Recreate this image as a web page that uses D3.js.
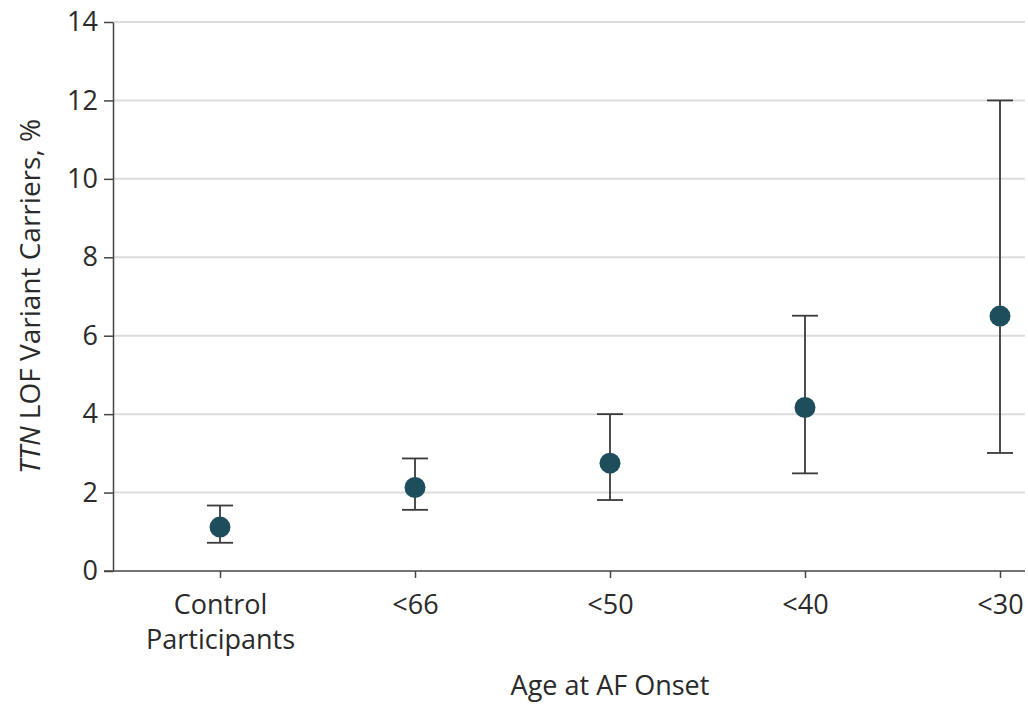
<!DOCTYPE html>
<html><head><meta charset="utf-8">
<script src="https://cdn.jsdelivr.net/npm/d3@7"></script>
<style>body{margin:0;background:#fff}svg{display:block}</style>
</head><body>
<svg id="c" width="1028" height="705"></svg>
<script>
const categories = ["Control\nParticipants", "<66", "<50", "<40", "<30"];
const estimates = [1.12, 2.13, 2.75, 4.17, 6.5];
const lower = [0.72, 1.56, 1.81, 2.49, 3.01];
const upper = [1.67, 2.87, 4.0, 6.51, 12.0];
const yTicks = [0, 2, 4, 6, 8, 10, 12, 14];

(function(){
const svg = d3.select("#c");
const font = "Open Sans, sans-serif";
const axisLeft = 113, axisRight = 1025, plotTop = 22, plotBottom = 571;
const x = d3.scalePoint().domain(categories).range([220, 1000]);
const y = d3.scaleLinear().domain([0, 14]).range([plotBottom, plotTop]);

// gridlines
svg.append("g").selectAll("line").data(yTicks.filter(d => d > 0)).join("line")
  .attr("x1", axisLeft).attr("x2", axisRight)
  .attr("y1", d => y(d)).attr("y2", d => y(d))
  .attr("stroke", "#dcdcdc").attr("stroke-width", 2);

// y axis
const gy = svg.append("g").attr("transform", `translate(${axisLeft},0)`)
  .call(d3.axisLeft(y).tickValues(yTicks).tickSize(9).tickPadding(6).tickSizeOuter(0));
gy.select(".domain").attr("stroke", "#444").attr("stroke-width", 1.5);
gy.selectAll(".tick line").attr("stroke", "#444").attr("stroke-width", 1.5);
gy.selectAll(".tick text").attr("font-family", font).attr("font-size", 27).attr("fill", "#2a2a2a");

// x axis
svg.append("line").attr("x1", axisLeft - 9).attr("x2", axisRight)
  .attr("y1", plotBottom).attr("y2", plotBottom).attr("stroke", "#444").attr("stroke-width", 1.5);
const gx = svg.append("g").attr("transform", `translate(0,${plotBottom})`)
  .call(d3.axisBottom(x).tickSize(7).tickSizeOuter(0).tickFormat(""));
gx.select(".domain").remove();
gx.selectAll(".tick line").attr("stroke", "#444").attr("stroke-width", 1.5);
gx.selectAll(".tick").each(function(d) {
  const lines = d.split("\n");
  const t = d3.select(this).append("text").attr("font-family", font).attr("font-size", 27)
    .attr("fill", "#2a2a2a").attr("text-anchor", "middle");
  lines.forEach((l, i) => t.append("tspan").attr("x", 0).attr("y", 43 + i * 35).text(l));
});

// error bars
const data = categories.map((c, i) => ({c, est: estimates[i], lo: lower[i], hi: upper[i]}));
const eb = svg.append("g").attr("stroke", "#3a3a3a").attr("stroke-width", 1.8);
eb.selectAll(".v").data(data).join("line").attr("class", "v")
  .attr("x1", d => x(d.c)).attr("x2", d => x(d.c)).attr("y1", d => y(d.lo)).attr("y2", d => y(d.hi));
eb.selectAll(".t").data(data).join("line").attr("class", "t")
  .attr("x1", d => x(d.c) - 13).attr("x2", d => x(d.c) + 13).attr("y1", d => y(d.hi)).attr("y2", d => y(d.hi));
eb.selectAll(".b").data(data).join("line").attr("class", "b")
  .attr("x1", d => x(d.c) - 13).attr("x2", d => x(d.c) + 13).attr("y1", d => y(d.lo)).attr("y2", d => y(d.lo));

svg.append("g").selectAll("circle").data(data).join("circle")
  .attr("cx", d => x(d.c)).attr("cy", d => y(d.est)).attr("r", 10.5).attr("fill", "#1e4d5c");

// titles
svg.append("text").attr("x", 610).attr("y", 695).attr("text-anchor", "middle")
  .attr("font-family", font).attr("font-size", 27).attr("fill", "#2a2a2a").text("Age at AF Onset");
const yt = svg.append("text").attr("transform", `translate(40,${(plotTop + plotBottom) / 2}) rotate(-90)`)
  .attr("text-anchor", "middle").attr("font-family", font).attr("font-size", 28).attr("fill", "#2a2a2a");
yt.append("tspan").attr("font-style", "italic").text("TTN");
yt.append("tspan").text(" LOF Variant Carriers, %");
})();
</script>
</body></html>
